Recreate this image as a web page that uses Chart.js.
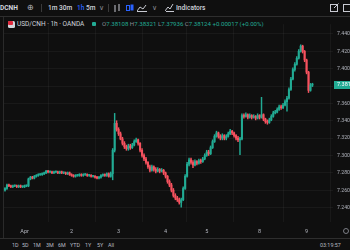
<!DOCTYPE html>
<html>
<head>
<meta charset="utf-8">
<script src="https://cdn.jsdelivr.net/npm/chart.js@4/dist/chart.umd.min.js"></script>
<style>
  html, body { margin: 0; padding: 0; background: #0f0f0f; }
  body { width: 350px; height: 250px; position: relative; overflow: hidden; font-family: Roboto, "Noto Sans", sans-serif; color: #d1d4dc; }
  .abs { position: absolute; white-space: nowrap; }
  #topbar { position: absolute; left: 0; top: 0; width: 350px; height: 16px; border-bottom: 1px solid #2e2e2e; }
  #topbar span { position: absolute; top: 4px; font-size: 6.6px; line-height: 8px; color: #d1d4dc; font-weight: 500; }
  .sep { position: absolute; top: 4px; width: 1px; height: 8px; background: #3a3a3a; }
  #legend { position: absolute; left: 0; top: 19px; height: 10px; font-size: 6.5px; line-height: 10px; }
  #ohlc { position: absolute; left: 102px; top: 19px; font-size: 6.1px; line-height: 10px; color: #8a8d96; }
  #ohlc b { font-weight: 400; color: #22ab94; }
  #chartBox { position: absolute; left: 0; top: 17px; width: 350px; height: 221px; }
  #leftline { position: absolute; left: 3px; top: 17px; width: 1px; height: 221px; background: #2a2a2a; }
  #bottombar { position: absolute; left: 0; top: 238px; width: 350px; height: 12px; border-top: 1px solid #2e2e2e; }
  #bottombar span { position: absolute; top: 3px; font-size: 5.4px; line-height: 7px; color: #b8bac2; }
</style>
</head>
<body>
<div id="topbar">
  <span style="left:0px;font-weight:700">DCNH</span>
  <span style="left:27px;top:2px;font-size:8px;line-height:11px;color:#b8bac2">⊕</span>
  <div class="sep" style="left:41px"></div>
  <span style="left:48px">1m</span>
  <span style="left:59px">30m</span>
  <span style="left:77px;color:#2962ff">1h</span>
  <span style="left:86px">5m</span>
  <span style="left:99px;color:#8a8d96">∨</span>
  <div class="sep" style="left:108px"></div>
  <svg class="abs" style="left:113px;top:4px" width="8" height="9">
    <line x1="2" y1="1" x2="2" y2="8" stroke="#c8cad2" stroke-width="1"/>
    <line x1="6" y1="0" x2="6" y2="7" stroke="#c8cad2" stroke-width="1"/>
  </svg>
  <svg class="abs" style="left:126px;top:3px" width="8" height="10">
    <rect x="0.5" y="2.5" width="3" height="5" fill="none" stroke="#2962ff"/>
    <rect x="4.5" y="1.5" width="3" height="6" fill="#2962ff"/>
  </svg>
  <svg class="abs" style="left:137px;top:4px" width="10" height="8">
    <polyline points="0,7 3,3 6,5 9,1" fill="none" stroke="#c8cad2" stroke-width="1"/>
    <line x1="0" y1="7.5" x2="10" y2="7.5" stroke="#c8cad2"/>
  </svg>
  <span style="left:152px;color:#8a8d96">∨</span>
  <svg class="abs" style="left:165px;top:3px" width="9" height="9">
    <polyline points="0,8 3,4 5,6 8,1" fill="none" stroke="#c8cad2" stroke-width="1"/>
    <line x1="1" y1="8.5" x2="9" y2="8.5" stroke="#c8cad2"/>
  </svg>
  <span style="left:176px">Indicators</span>
  <svg class="abs" style="left:330px;top:3px" width="9" height="9">
    <rect x="0.5" y="1.5" width="7" height="7" fill="none" stroke="#c8cad2"/>
    <line x1="4" y1="5" x2="8.5" y2="0.5" stroke="#c8cad2"/>
  </svg>
  <svg class="abs" style="left:343px;top:3px" width="9" height="9">
    <rect x="0.5" y="1.5" width="7" height="7" fill="none" stroke="#c8cad2"/>
  </svg>
</div>

<div id="leftline"></div>

<div id="legend">
  <svg class="abs" style="left:8px;top:2px" width="7" height="7">
    <rect x="0" y="0" width="7" height="7" rx="1.5" fill="#d0d3da"/>
    <rect x="0" y="0" width="5" height="4" rx="1" fill="#e0283c"/>
  </svg>
  <span class="abs" style="left:17px;top:0;color:#d1d4dc">USD/CNH · 1h · OANDA</span>
  <svg class="abs" style="left:91px;top:2px" width="6" height="6">
    <rect x="1" y="1" width="4" height="4" rx="1" fill="#22ab94"/>
  </svg>
</div>
<div id="ohlc">O<b>7.38108</b> H<b>7.38321</b> L<b>7.37936</b> C<b>7.38124</b> <b>+0.00017 (+0.00%)</b></div>

<div id="chartBox"><canvas id="priceChart" width="350" height="221"></canvas></div>

<div id="bottombar">
  <span style="left:12px">1D</span>
  <span style="left:22px">5D</span>
  <span style="left:33px">1M</span>
  <span style="left:46px">3M</span>
  <span style="left:58px">6M</span>
  <span style="left:70px">YTD</span>
  <span style="left:85px">1Y</span>
  <span style="left:97px">5Y</span>
  <span style="left:108px">All</span>
  <span style="left:320px">03:19:57 UTC</span>
</div>

<script>
// hourly USD/CNH candles (OANDA)
const opens = [
  7.260, 7.262, 7.266, 7.265, 7.264, 7.265, 7.265, 7.264, 7.265, 7.264, 7.264, 7.265,
  7.265, 7.273, 7.275, 7.274, 7.276, 7.277, 7.278, 7.278, 7.279, 7.280, 7.282, 7.281,
  7.281, 7.280, 7.281, 7.281, 7.280, 7.281, 7.280, 7.280, 7.279, 7.280, 7.278, 7.277,
  7.276, 7.277, 7.277, 7.278, 7.277, 7.278, 7.278, 7.277, 7.277, 7.276, 7.276, 7.275,
  7.274, 7.275, 7.277, 7.278, 7.277, 7.279, 7.276, 7.279, 7.306, 7.337, 7.330, 7.325,
  7.319, 7.314, 7.310, 7.308, 7.311, 7.309, 7.312, 7.316, 7.318, 7.314, 7.306, 7.300,
  7.296, 7.292, 7.287, 7.283, 7.287, 7.284, 7.282, 7.284, 7.282, 7.283, 7.280, 7.276,
  7.270, 7.266, 7.260, 7.254, 7.251, 7.249, 7.246, 7.249, 7.262, 7.276, 7.290, 7.295,
  7.292, 7.289, 7.293, 7.291, 7.294, 7.293, 7.296, 7.300, 7.304, 7.302, 7.309, 7.316,
  7.322, 7.326, 7.322, 7.320, 7.323, 7.320, 7.322, 7.325, 7.328, 7.326, 7.323, 7.320,
  7.318, 7.319, 7.346, 7.345, 7.347, 7.344, 7.346, 7.344, 7.345, 7.343, 7.346, 7.344,
  7.347, 7.342, 7.339, 7.338, 7.341, 7.345, 7.349, 7.350, 7.353, 7.356, 7.355, 7.358,
  7.362, 7.366, 7.376, 7.388, 7.399, 7.405, 7.412, 7.420, 7.426, 7.420, 7.410, 7.396,
  7.375, 7.38108
];
const closes = [
  7.262, 7.266, 7.265, 7.264, 7.265, 7.265, 7.264, 7.265, 7.264, 7.264, 7.265, 7.265,
  7.273, 7.275, 7.274, 7.276, 7.277, 7.278, 7.278, 7.279, 7.280, 7.282, 7.281, 7.281,
  7.280, 7.281, 7.281, 7.280, 7.281, 7.280, 7.280, 7.279, 7.280, 7.278, 7.277, 7.276,
  7.277, 7.277, 7.278, 7.277, 7.278, 7.278, 7.277, 7.277, 7.276, 7.276, 7.275, 7.274,
  7.275, 7.277, 7.278, 7.277, 7.279, 7.276, 7.279, 7.306, 7.337, 7.330, 7.325, 7.319,
  7.314, 7.310, 7.308, 7.311, 7.309, 7.312, 7.316, 7.318, 7.314, 7.306, 7.300, 7.296,
  7.292, 7.287, 7.283, 7.287, 7.284, 7.282, 7.284, 7.282, 7.283, 7.280, 7.276, 7.270,
  7.266, 7.260, 7.254, 7.251, 7.249, 7.246, 7.249, 7.262, 7.276, 7.290, 7.295, 7.292,
  7.289, 7.293, 7.291, 7.294, 7.293, 7.296, 7.300, 7.304, 7.302, 7.309, 7.316, 7.322,
  7.326, 7.322, 7.320, 7.323, 7.320, 7.322, 7.325, 7.328, 7.326, 7.323, 7.320, 7.318,
  7.319, 7.346, 7.345, 7.347, 7.344, 7.346, 7.344, 7.345, 7.343, 7.346, 7.344, 7.347,
  7.342, 7.339, 7.338, 7.341, 7.345, 7.349, 7.350, 7.353, 7.356, 7.355, 7.358, 7.362,
  7.366, 7.376, 7.388, 7.399, 7.405, 7.412, 7.420, 7.426, 7.420, 7.410, 7.396, 7.375,
  7.38108, 7.38124
];
const highs = [
  7.263, 7.267, 7.267, 7.266, 7.266, 7.266, 7.266, 7.266, 7.266, 7.265, 7.266, 7.266,
  7.274, 7.276, 7.276, 7.277, 7.278, 7.279, 7.279, 7.280, 7.281, 7.283, 7.283, 7.282,
  7.282, 7.282, 7.282, 7.282, 7.282, 7.282, 7.281, 7.281, 7.281, 7.281, 7.279, 7.278,
  7.278, 7.278, 7.279, 7.279, 7.279, 7.279, 7.279, 7.278, 7.278, 7.277, 7.277, 7.276,
  7.276, 7.278, 7.279, 7.279, 7.280, 7.280, 7.281, 7.308, 7.3485, 7.340, 7.332, 7.327,
  7.321, 7.316, 7.312, 7.313, 7.313, 7.314, 7.318, 7.320, 7.319, 7.315, 7.308, 7.302,
  7.298, 7.293, 7.289, 7.289, 7.288, 7.286, 7.286, 7.285, 7.285, 7.284, 7.281, 7.277,
  7.272, 7.268, 7.262, 7.256, 7.253, 7.251, 7.251, 7.264, 7.278, 7.292, 7.297, 7.297,
  7.294, 7.295, 7.294, 7.296, 7.296, 7.298, 7.302, 7.306, 7.306, 7.311, 7.318, 7.324,
  7.328, 7.327, 7.324, 7.325, 7.324, 7.324, 7.327, 7.330, 7.329, 7.327, 7.324, 7.322,
  7.321, 7.348, 7.348, 7.349, 7.348, 7.348, 7.347, 7.347, 7.346, 7.348, 7.347, 7.367,
  7.348, 7.343, 7.341, 7.343, 7.347, 7.351, 7.352, 7.355, 7.358, 7.358, 7.360, 7.364,
  7.368, 7.378, 7.390, 7.401, 7.407, 7.414, 7.422, 7.4275, 7.427, 7.421, 7.411, 7.397,
  7.383, 7.38321
];
const lows = [
  7.259, 7.261, 7.264, 7.263, 7.263, 7.264, 7.263, 7.263, 7.263, 7.263, 7.263, 7.264,
  7.264, 7.272, 7.273, 7.273, 7.275, 7.276, 7.277, 7.277, 7.278, 7.279, 7.280, 7.280,
  7.279, 7.279, 7.280, 7.279, 7.279, 7.279, 7.279, 7.278, 7.278, 7.277, 7.276, 7.275,
  7.275, 7.276, 7.276, 7.276, 7.276, 7.277, 7.276, 7.276, 7.275, 7.275, 7.274, 7.273,
  7.273, 7.274, 7.276, 7.276, 7.276, 7.275, 7.275, 7.272, 7.304, 7.328, 7.323, 7.318,
  7.312, 7.308, 7.306, 7.306, 7.307, 7.308, 7.311, 7.315, 7.312, 7.304, 7.298, 7.294,
  7.290, 7.285, 7.281, 7.282, 7.282, 7.280, 7.281, 7.280, 7.281, 7.278, 7.274, 7.268,
  7.264, 7.258, 7.252, 7.249, 7.247, 7.244, 7.2405, 7.248, 7.261, 7.275, 7.288, 7.290,
  7.286, 7.288, 7.289, 7.290, 7.291, 7.292, 7.295, 7.299, 7.300, 7.301, 7.308, 7.315,
  7.321, 7.320, 7.318, 7.318, 7.318, 7.318, 7.321, 7.324, 7.324, 7.321, 7.318, 7.316,
  7.301, 7.318, 7.343, 7.344, 7.342, 7.343, 7.342, 7.343, 7.341, 7.342, 7.342, 7.343,
  7.340, 7.337, 7.336, 7.337, 7.340, 7.344, 7.348, 7.349, 7.352, 7.353, 7.354, 7.357,
  7.351, 7.365, 7.375, 7.387, 7.397, 7.404, 7.411, 7.419, 7.418, 7.408, 7.394, 7.3725,
  7.374, 7.37936
];

// day labels on the time axis, by candle slot
const dayTickSlots = [10, 34, 58, 82, 103, 130, 154];
const dayTickText = ["Apr", "2", "3", "4", "5", "8", "9"];
const priceTicks = [7.24, 7.26, 7.28, 7.30, 7.32, 7.34, 7.36, 7.38, 7.40, 7.42, 7.44];

const totalSlots = 168; // empty room to the right of the last candle
const upColor = "#22ab94";
const downColor = "#f7525f";

const slots = [];
for (let i = 0; i < totalSlots; i++) slots.push(i);

const candleColors = closes.map((c, i) => (c >= opens[i] ? upColor : downColor));
const bodies = closes.map((c, i) => [opens[i], c]);
const wicks = highs.map((h, i) => [lows[i], h]);
const lastClose = closes[closes.length - 1];

const lastPriceTag = {
  id: "lastPriceTag",
  afterDraw(chart) {
    const ctx = chart.ctx;
    const y = chart.scales.y.getPixelForValue(lastClose);
    const x = chart.chartArea.right + 1;
    ctx.save();
    ctx.fillStyle = upColor;
    ctx.fillRect(x, Math.round(y) - 4, 350 - x, 8);
    ctx.fillStyle = "#ffffff";
    ctx.font = "5.5px Roboto";
    ctx.textBaseline = "middle";
    ctx.fillText(lastClose.toFixed(3), x + 3, Math.round(y));
    // settings circle at the end of the time axis
    ctx.strokeStyle = "#9598a1";
    ctx.lineWidth = 0.8;
    ctx.beginPath();
    ctx.arc(346, chart.chartArea.bottom + 9, 2.5, 0, Math.PI * 2);
    ctx.stroke();
    ctx.restore();
  }
};

const ctx = document.getElementById("priceChart").getContext("2d");
new Chart(ctx, {
  type: "bar",
  data: {
    labels: slots,
    datasets: [
      {
        label: "body",
        data: bodies,
        backgroundColor: candleColors,
        barThickness: 1.4,
        minBarLength: 1,
        grouped: false
      },
      {
        label: "wick",
        data: wicks,
        backgroundColor: candleColors,
        barThickness: 0.8,
        minBarLength: 1,
        grouped: false
      }
    ]
  },
  options: {
    responsive: false,
    animation: false,
    devicePixelRatio: 1,
    layout: { padding: { left: 4, top: 1, right: 0, bottom: 0 } },
    plugins: { legend: { display: false }, tooltip: { enabled: false } },
    scales: {
      x: {
        offset: true,
        grid: { color: "rgba(255,255,255,0.045)", drawTicks: false },
        border: { display: false },
        afterFit: (scale) => { scale.height = 16; },
        ticks: {
          autoSkip: false,
          maxRotation: 0,
          padding: 6,
          color: "#b2b5be",
          font: { family: "Roboto", size: 5.5 },
          callback: (val, index) => {
            const k = dayTickSlots.indexOf(index);
            return k >= 0 ? dayTickText[k] : null;
          }
        }
      },
      y: {
        position: "right",
        min: 7.2234,
        max: 7.4513,
        grid: { color: "rgba(255,255,255,0.045)", drawTicks: false },
        border: { display: false },
        afterFit: (scale) => { scale.width = 17; },
        afterBuildTicks: (scale) => {
          scale.ticks = priceTicks.map((v) => ({ value: v }));
        },
        ticks: {
          autoSkip: false,
          padding: 4,
          color: "#b2b5be",
          font: { family: "Roboto", size: 5.2 },
          callback: (val) => (Math.abs(val - 7.38) < 0.001 ? "" : val.toFixed(3))
        }
      }
    }
  },
  plugins: [lastPriceTag]
});
</script>
</body>
</html>
